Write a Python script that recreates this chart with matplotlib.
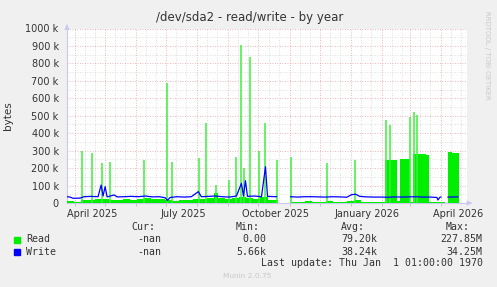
import numpy as np
import pandas as pd
import matplotlib
matplotlib.use("Agg")
import matplotlib.pyplot as plt
import matplotlib.dates as mdates

# Read baseline (bytes, in k) - step values, NaN where no data
read_dates = ["2025-03-24", "2025-03-31", "2025-04-07", "2025-04-14", "2025-04-21", "2025-04-28",
              "2025-05-05", "2025-05-12", "2025-05-19", "2025-05-26", "2025-06-02", "2025-06-09",
              "2025-06-16", "2025-06-23", "2025-06-30", "2025-07-07", "2025-07-14", "2025-07-21",
              "2025-07-28", "2025-08-04", "2025-08-11", "2025-08-18", "2025-08-22", "2025-08-29",
              "2025-09-05", "2025-09-12", "2025-09-19", "2025-09-26", "2025-10-03", "2025-10-10",
              "2025-10-15", "2025-10-20", "2025-11-02", "2025-11-09", "2025-11-16", "2025-11-23",
              "2025-11-30", "2025-12-07", "2025-12-14", "2025-12-21", "2025-12-28", "2026-01-04",
              "2026-01-11", "2026-01-18", "2026-01-25", "2026-02-01", "2026-02-04", "2026-02-10",
              "2026-02-16", "2026-02-19", "2026-02-24", "2026-03-01", "2026-03-04", "2026-03-12",
              "2026-03-17", "2026-03-20", "2026-03-27", "2026-04-05", "2026-04-08", "2026-04-12",
              "2026-04-19", "2026-04-27"]
read_vals = [12, 8, 15, 18, 22, 25,
             20, 18, 22, 20, 25, 28,
             22, 25, 20, 12, 15, 20,
             25, 22, 28, 60, 30, 22,
             30, 35, 30, 25, 35, 20,
             15, np.nan, 5, 8, 10, 6,
             5, 12, 8, 5, 10, 15,
             6, 5, 4, 4, 246, 248,
             10, 252, 250, 5, 282, 280,
             273, 6, 5, np.nan, 290, 286,
             np.nan, np.nan]

# Read spikes (single days)
spike_dates = ["2025-04-08", "2025-04-18", "2025-04-28", "2025-05-06", "2025-06-09", "2025-07-02",
               "2025-07-07", "2025-08-03", "2025-08-10", "2025-08-20", "2025-09-02", "2025-09-09",
               "2025-09-14", "2025-09-17", "2025-09-23", "2025-10-02", "2025-10-08", "2025-10-19",
               "2025-11-02", "2025-12-08", "2026-01-05", "2026-02-05", "2026-02-09", "2026-03-01",
               "2026-03-05", "2026-03-08"]
spike_vals = [300, 287, 229, 237, 246, 690,
              237, 258, 458, 103, 132, 265,
              905, 200, 838, 300, 458, 246,
              265, 229, 246, 475, 447, 495,
              523, 504]

# Write line (bytes, in k)
write_dates = ["2025-03-24", "2025-03-27", "2025-03-30", "2025-04-06", "2025-04-10", "2025-04-17",
               "2025-04-24", "2025-04-27", "2025-04-29", "2025-05-01", "2025-05-03", "2025-05-10",
               "2025-05-13", "2025-05-20", "2025-05-27", "2025-06-03", "2025-06-10", "2025-06-17",
               "2025-06-24", "2025-06-30", "2025-07-02", "2025-07-05", "2025-07-12", "2025-07-19",
               "2025-07-26", "2025-08-02", "2025-08-05", "2025-08-12", "2025-08-19", "2025-08-26",
               "2025-09-02", "2025-09-09", "2025-09-14", "2025-09-16", "2025-09-18", "2025-09-20",
               "2025-09-27", "2025-10-04", "2025-10-08", "2025-10-10", "2025-10-19", "2025-10-20",
               "2025-11-02", "2025-11-09", "2025-11-16", "2025-11-23", "2025-11-30", "2025-12-07",
               "2025-12-14", "2025-12-21", "2025-12-28", "2026-01-02", "2026-01-06", "2026-01-10",
               "2026-01-17", "2026-01-24", "2026-01-31", "2026-02-07", "2026-02-14", "2026-02-21",
               "2026-02-28", "2026-03-07", "2026-03-14", "2026-03-21", "2026-03-28", "2026-03-29",
               "2026-03-31", "2026-04-01", "2026-04-02", "2026-04-08", "2026-04-18", "2026-04-19"]
write_vals = [36, 34, 27, 28, 36, 38,
              36, 103, 40, 94, 35, 46,
              35, 36, 38, 36, 40, 35,
              36, 30, 15, 32, 36, 34,
              36, 65, 36, 38, 40, 36,
              34, 40, 113, 40, 128, 38,
              40, 36, 208, 38, 36, np.nan,
              36, 34, 36, 36, 35, 34,
              36, 35, 33, 48, 50, 38,
              35, 34, 34, 33, 35, 34,
              35, 36, 34, 34, 32, 17,
              33, 34, np.nan, 34, 35, np.nan]

x_start, x_end = "2025-03-24", "2026-04-27"
label_texts = ["April 2025", "July 2025", "October 2025", "January 2026", "April 2026"]
label_dates = ["2025-04-18", "2025-07-18", "2025-10-18", "2026-01-17", "2026-04-18"]

legend_rows = [("Read", "#00ee00", "-nan", "0.00", "79.20k", "227.85M"),
               ("Write", "#0000ff", "-nan", "5.66k", "38.24k", "34.25M")]

bg = "#f0f0f0"
txt = "#333333"

fig = plt.figure(figsize=(4.97, 2.87), dpi=100, facecolor=bg)
ax = fig.add_axes([67 / 497, 84 / 287, 400 / 497, 174.5 / 287])
ax.set_facecolor("white")

# read area: gaps (NaN) simply draw nothing
rd = mdates.date2num(pd.to_datetime(read_dates))
rv = np.nan_to_num(np.array(read_vals, dtype=float)) * 1000
ax.fill_between(rd, 0, rv, step="post", color="#00ee00", lw=0, zorder=3)

# one-day read peaks
sd = mdates.date2num(pd.to_datetime(spike_dates))
ax.vlines(sd, 0, np.array(spike_vals) * 1000, colors="#3cf03c", lw=1.1, zorder=3)

wd = mdates.date2num(pd.to_datetime(write_dates))
ax.plot(wd, np.array(write_vals, dtype=float) * 1000, color="#0000ff", lw=0.9, zorder=4)

# Axes limits and grid
x0 = mdates.date2num(pd.Timestamp(x_start))
x1 = mdates.date2num(pd.Timestamp(x_end))
ax.set_xlim(x0, x1)
ax.set_ylim(0, 1000000)

for m in pd.date_range("2025-04-01", "2026-04-01", freq="MS"):
    for d in (10, 20):
        xm = mdates.date2num(m + pd.Timedelta(days=d))
        if xm < x1:
            ax.axvline(xm, color="#d4d4d4", lw=0.6, ls=(0, (1, 2)), zorder=1)
    ax.axvline(mdates.date2num(m), color="#e8a0a0", lw=0.6, ls=(0, (1, 2)), zorder=2)
for yv in range(50000, 1000001, 100000):
    ax.axhline(yv, color="#d4d4d4", lw=0.6, ls=(0, (1, 2)), zorder=1)
for yv in range(100000, 1000001, 100000):
    ax.axhline(yv, color="#e8a0a0", lw=0.6, ls=(0, (1, 2)), zorder=2)

ax.set_yticks(range(0, 1000001, 100000))
ax.set_yticklabels(["0"] + ["%d k" % (v // 1000) for v in range(100000, 1000001, 100000)])
ax.set_xticks(mdates.date2num(pd.to_datetime(label_dates)))
ax.set_xticklabels(label_texts)
ax.tick_params(axis="both", length=0, labelsize=7, colors=txt)
ax.tick_params(axis="y", pad=6)
ax.tick_params(axis="x", pad=4)
ax.set_xticks(mdates.date2num(pd.date_range("2025-04-01", "2026-04-01", freq="MS")), minor=True)
ax.tick_params(axis="x", which="minor", length=2, color="#bbbbbb", direction="out")

for s in ("top", "right"):
    ax.spines[s].set_visible(False)
ax.spines["left"].set_color("#c8c8f0")
ax.spines["bottom"].set_color("#c8c8f0")
ax.spines["left"].set_linewidth(0.8)
ax.spines["bottom"].set_linewidth(0.8)

# axis arrows
ax.annotate("", xy=(0, 1.04), xytext=(0, 1.0), xycoords="axes fraction",
            arrowprops=dict(arrowstyle="-|>", color="#c8c8f0", lw=0.8, mutation_scale=7))
ax.annotate("", xy=(1.02, 0), xytext=(1.0, 0), xycoords="axes fraction",
            arrowprops=dict(arrowstyle="-|>", color="#c8c8f0", lw=0.8, mutation_scale=7))

ax.set_ylabel("bytes", fontsize=7.5, color=txt, labelpad=6)
ax.yaxis.set_label_coords(-0.135, 0.5)

fig.text(250 / 497, 1 - 18 / 287, "/dev/sda2 - read/write - by year", ha="center", va="center",
         fontsize=8.5, color=txt)
fig.text(487 / 497, 1 - 55 / 287, "RRDTOOL / TOBI OETIKER", rotation=-90, ha="center", va="center",
         fontsize=5, color="#c8c8c8")

# Legend block
mono = dict(family="DejaVu Sans Mono", fontsize=7.1, color=txt, va="center")
for head, xr in (("Cur:", 155), ("Min:", 259.5), ("Avg:", 365), ("Max:", 470)):
    fig.text(xr / 497, 1 - 226.7 / 287, head, ha="right", **mono)
for i, (name, col, cur, mn, av, mx) in enumerate(legend_rows):
    yy = 1 - (239.5 + i * 12.3) / 287
    fig.patches.append(plt.Rectangle((14 / 497, yy - 3 / 287), 6 / 497, 6 / 287,
                                     transform=fig.transFigure, color=col))
    fig.text(26 / 497, yy, name, ha="left", **mono)
    for val, xr in ((cur, 161), (mn, 266), (av, 377.7), (mx, 482.7)):
        fig.text(xr / 497, yy, val, ha="right", **mono)
fig.text(482.7 / 497, 1 - 263.5 / 287, "Last update: Thu Jan  1 01:00:00 1970", ha="right", **mono)
fig.text(247.5 / 497, 1 - 276 / 287, "Munin 2.0.75", ha="center", va="center", fontsize=5.3,
         color="#c8c8c8")

fig.savefig("out.png", dpi=100, facecolor=bg)
